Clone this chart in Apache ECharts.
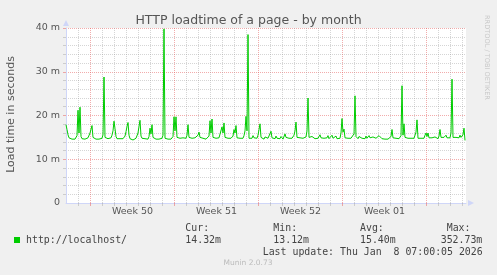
<!DOCTYPE html>
<html>
<head>
<meta charset="utf-8">
<script src="https://cdn.jsdelivr.net/npm/echarts@6/dist/echarts.min.js"></script>
<style>
html,body{margin:0;padding:0;background:#F0F0F0;}
#chart{width:497px;height:275px;}
</style>
</head>
<body>
<div id="chart"></div>
<script>
// ---- data ----
const chartTitle = 'HTTP loadtime of a page - by month';
const yAxisTitle = 'Load time in seconds';
const seriesName = 'http://localhost/';
const stepHours = 2;           // one sample every 2 hours
const rangeHours = 800;        // shown period
// load time in milliseconds, one value per 2 h
const loadTimeMs = [
17.9,16.8,15.6,14.9,14.6,14.7,14.6,14.8,14.7,14.6,14.7,15.4,21.2,16.0,21.9,15.2,14.7,14.6,14.7,14.6,
14.7,14.6,14.9,15.3,16.0,15.8,17.7,15.0,14.7,14.8,14.6,14.7,14.9,14.6,14.7,14.6,14.8,15.6,28.8,15.0,
14.7,14.6,14.7,14.8,14.6,14.9,15.5,16.5,18.7,17.0,15.2,14.7,14.6,14.8,14.7,14.6,14.5,14.7,14.8,15.3,
16.3,17.5,18.4,15.5,14.7,14.6,14.5,14.4,14.6,14.7,14.8,15.2,16.0,17.5,18.9,15.3,14.8,14.6,14.9,14.7,
14.6,14.8,14.6,15.2,17.1,15.8,17.9,15.0,14.7,14.8,14.6,14.7,14.9,14.6,14.7,14.6,14.8,15.5,39.8,14.8,
14.6,14.7,14.6,14.9,14.7,14.6,14.8,15.2,19.7,16.5,19.7,15.0,14.7,14.6,14.8,14.6,14.7,14.9,14.6,14.7,
14.8,15.5,17.9,15.0,14.7,14.6,14.8,14.7,14.6,14.9,14.7,14.8,15.5,16.2,15.0,14.7,14.6,14.8,14.6,14.7,
14.6,14.8,14.7,15.3,18.8,16.0,19.2,15.0,14.7,14.6,14.8,14.7,14.6,14.9,14.7,15.3,17.4,16.0,18.3,15.0,
14.7,14.6,14.8,14.7,14.6,14.8,14.7,15.3,16.8,16.0,17.7,14.9,14.7,14.6,14.8,14.7,14.6,14.8,15.4,16.5,
19.8,16.5,38.5,14.8,14.6,14.7,14.8,15.4,14.9,14.7,14.6,14.8,15.5,16.8,18.1,15.0,14.7,14.8,14.6,15.1,
14.7,15.3,14.8,14.6,15.2,16.4,14.9,14.6,15.1,14.7,15.3,14.8,14.6,14.9,14.7,15.2,14.8,14.6,14.9,15.8,
15.0,14.7,14.6,14.8,14.7,14.6,14.8,14.7,15.5,16.5,18.5,15.0,14.7,14.6,14.9,14.7,14.6,14.8,14.7,14.8,
15.1,16.5,24.0,15.0,14.7,14.6,15.2,14.8,15.3,14.7,14.6,15.1,14.8,15.2,15.6,14.9,14.7,15.3,14.8,14.6,
15.2,14.9,15.4,14.7,14.8,15.1,15.5,14.8,14.6,14.9,15.3,14.7,14.8,15.0,14.8,16.0,19.3,16.2,16.9,14.9,
14.7,14.6,14.8,14.7,14.6,14.8,14.7,15.0,15.8,24.5,15.2,14.8,14.7,15.2,15.4,14.9,14.8,15.1,14.9,14.7,
15.3,14.8,15.0,15.4,14.9,14.7,14.8,15.1,14.9,14.7,14.8,15.0,15.2,15.4,15.8,15.0,14.7,14.8,14.7,14.6,
14.8,14.7,14.6,14.8,14.9,15.2,16.8,14.9,14.7,15.0,14.8,15.1,14.9,14.7,14.8,15.4,26.8,15.5,18.1,15.0,
14.9,15.1,14.8,14.7,15.0,14.8,14.9,14.7,14.8,15.1,16.2,19.0,14.8,14.7,14.9,14.8,15.0,14.7,14.8,15.5,
16.0,15.2,16.0,14.9,14.8,15.2,14.9,14.7,14.8,15.1,14.9,14.8,14.7,15.3,16.8,15.0,14.8,14.9,15.0,15.2,
15.5,14.9,14.8,14.7,14.9,16.0,28.3,15.0,14.8,14.9,15.0,14.8,15.4,14.9,15.5,15.0,15.3,15.6,17.1,14.3
];
const weekStartHours = [49, 217, 385, 553, 721];
const weekLabelHours = [133, 301, 469, 637];
const weekLabels = ['Week 50', 'Week 51', 'Week 52', 'Week 01'];
const yMajorTicks = [0, 10, 20, 30, 40];
const yMinorTicks = [2,4,6,8,12,14,16,18,22,24,26,28,32,34,36,38];
const statHeaders = ['Cur:', 'Min:', 'Avg:', 'Max:'];
const statValues = ['14.32m', '13.12m', '15.40m', '352.73m'];
const lastUpdate = 'Last update: Thu Jan  8 07:00:05 2026';
const footer = 'Munin 2.0.73';
const watermark = 'RRDTOOL / TOBI OETIKER';

// day grid: every 24 h starting from first midnight (1 h after start), excluding week lines
const dayHours = [];
for (let h = 25; h < rangeHours; h += 24) if (weekStartHours.indexOf(h) < 0) dayHours.push(h);

const seriesData = loadTimeMs.map((v, i) => [i * stepHours, v]);

const AXIS = '#CFD6F8';
const GRAY = 'rgba(150,150,150,0.4)';
const RED = 'rgba(230,90,90,0.5)';
const FONT = '#555';
const MONO = '9.9px "DejaVu Sans Mono"';

const chart = echarts.init(document.getElementById('chart'), null, {renderer: 'canvas'});
chart.setOption({
  backgroundColor: '#F0F0F0',
  animation: false,
  title: {
    text: chartTitle, left: 'center', top: 9,
    textStyle: {fontFamily: 'DejaVu Sans', fontSize: 12.5, fontWeight: 'normal', color: FONT}
  },
  grid: {left: 66, top: 28, width: 400, height: 175, show: true, backgroundColor: '#FFFFFF', borderWidth: 0},
  xAxis: [{
    type: 'value', min: 0, max: rangeHours,
    axisLine: {show: true, lineStyle: {color: AXIS, width: 1}, symbol: ['none', 'triangle'], symbolSize: [6, 6], symbolOffset: [0, 5]},
    axisTick: {show: true, length: 3, customValues: dayHours, lineStyle: {color: GRAY}},
    splitLine: {show: true, lineStyle: {color: GRAY, type: [1, 1], width: 1}},
    axisLabel: {show: true, customValues: weekLabelHours, margin: 4,
      formatter: v => weekLabels[weekLabelHours.indexOf(v)] || '',
      fontFamily: 'DejaVu Sans', fontSize: 9.5, color: FONT}
  }, {
    type: 'value', min: 0, max: rangeHours, position: 'bottom',
    axisLine: {show: false},
    axisTick: {show: true, length: 3, customValues: weekStartHours, lineStyle: {color: RED}},
    splitLine: {show: true, lineStyle: {color: RED, type: [1, 1], width: 1}},
    axisLabel: {show: false}
  }],
  yAxis: [{
    type: 'value', min: 0, max: 40,
    axisLine: {show: true, lineStyle: {color: AXIS, width: 1}, symbol: ['none', 'triangle'], symbolSize: [6, 6], symbolOffset: [0, 5]},
    axisTick: {show: true, length: 3, customValues: yMinorTicks, lineStyle: {color: GRAY}},
    splitLine: {show: true, lineStyle: {color: GRAY, type: [1, 1], width: 1}},
    axisLabel: {show: false}
  }, {
    type: 'value', min: 0, max: 40, position: 'left',
    axisLine: {show: false},
    axisTick: {show: true, length: 3, customValues: yMajorTicks.filter(v => v > 0), lineStyle: {color: RED}},
    splitLine: {show: true, lineStyle: {color: RED, type: [1, 1], width: 1}},
    axisLabel: {show: true, customValues: yMajorTicks, margin: 6,
      formatter: v => v === 0 ? '0' : v + ' m',
      fontFamily: 'DejaVu Sans', fontSize: 9.5, color: FONT}
  }],
  series: [{
    name: seriesName, type: 'line', xAxisIndex: 0, yAxisIndex: 0,
    data: seriesData, showSymbol: false, symbol: 'none',
    lineStyle: {color: '#00CC00', width: 1}, z: 5
  }],
  graphic: [
    {type: 'text', x: 11, y: 114.5, rotation: Math.PI / 2,
      style: {text: yAxisTitle, font: '11px "DejaVu Sans"', fill: FONT, align: 'center', verticalAlign: 'middle'}},
    {type: 'text', x: 487, y: 15, rotation: -Math.PI / 2,
      style: {text: watermark, font: '6.6px "DejaVu Sans"', fill: '#C8C8C8', align: 'left', verticalAlign: 'middle'}},
    {type: 'rect', shape: {x: 14, y: 237, width: 6, height: 6}, style: {fill: '#00CC00'}},
    {type: 'text', x: 26, y: 240, style: {text: seriesName, font: MONO, fill: '#444', align: 'left', verticalAlign: 'middle'}},
    {type: 'text', x: 185.3, y: 228, style: {text: statHeaders[0], font: MONO, fill: '#444', verticalAlign: 'middle'}},
    {type: 'text', x: 273.3, y: 228, style: {text: statHeaders[1], font: MONO, fill: '#444', verticalAlign: 'middle'}},
    {type: 'text', x: 360, y: 228, style: {text: statHeaders[2], font: MONO, fill: '#444', verticalAlign: 'middle'}},
    {type: 'text', x: 446.7, y: 228, style: {text: statHeaders[3], font: MONO, fill: '#444', verticalAlign: 'middle'}},
    {type: 'text', x: 185.3, y: 240, style: {text: statValues[0], font: MONO, fill: '#444', verticalAlign: 'middle'}},
    {type: 'text', x: 273.3, y: 240, style: {text: statValues[1], font: MONO, fill: '#444', verticalAlign: 'middle'}},
    {type: 'text', x: 360, y: 240, style: {text: statValues[2], font: MONO, fill: '#444', verticalAlign: 'middle'}},
    {type: 'text', x: 440.7, y: 240, style: {text: statValues[3], font: MONO, fill: '#444', verticalAlign: 'middle'}},
    {type: 'text', x: 482.7, y: 252, style: {text: lastUpdate, font: MONO, fill: '#444', align: 'right', verticalAlign: 'middle'}},
    {type: 'text', x: 248, y: 263.5, style: {text: footer, font: '7.5px "DejaVu Sans"', fill: '#BBBBBB', align: 'center', verticalAlign: 'middle'}}
  ]
});
</script>
</body>
</html>
